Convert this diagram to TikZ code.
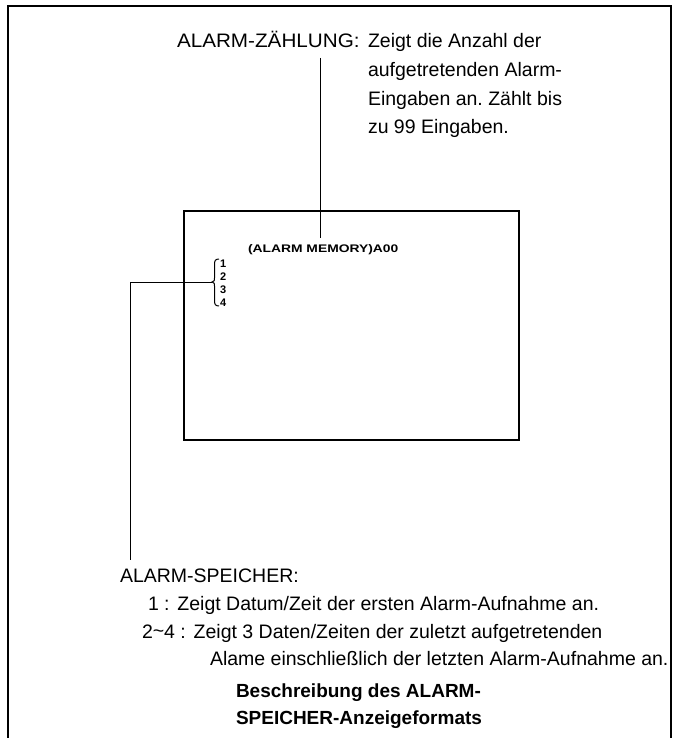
\documentclass[tikz,border=0pt]{standalone}
\usepackage{graphicx}
\usepackage{fontspec}
\setmainfont{Liberation Sans}
\frenchspacing
\begin{document}
\begin{tikzpicture}[x=1pt,y=-1pt,
  every node/.style={inner sep=0pt, outer sep=0pt},
  frameline/.style={line width=1.3pt},
  screenbox/.style={draw, line width=2pt},
  leader/.style={line width=1pt},
  body/.style={font=\fontsize{19.5}{28}\selectfont, anchor=base west},
  title/.style={font=\bfseries\fontsize{19}{27}\selectfont, anchor=base west},
  scr/.style={font=\bfseries\fontsize{11}{13}\selectfont, anchor=base west}]
\useasboundingbox (0,0) rectangle (679,738);
\fill[white] (0,0) rectangle (679,738);
\clip (0,0) rectangle (679,738);
% outer frame (open at the bottom)
\draw[frameline] (8,745) -- (8,6) -- (671,6) -- (671,745);
% top label
\node[body] (zlab) at (177,48) {\scalebox{1.06}[1]{ALARM-ZÄHLUNG:}};
\node[body] (z1) at (368,48) {Zeigt die Anzahl der};
\node[body] (z2) at (368,77) {aufgetretenden Alarm-};
\node[body] (z3) at (368,106) {Eingaben an. Zählt bis};
\node[body] (z4) at (368,134) {zu 99 Eingaben.};
% screen
\node[screenbox, minimum width=335pt, minimum height=229pt, anchor=north west] (screen) at (184,211) {};
\node[scr] (mem) at (248,252) {\scalebox{1.26}[1]{(ALARM MEMORY)A00}};
\node[scr] (n1) at (220,267) {1};
\node[scr] (n2) at (220,280) {2};
\node[scr] (n3) at (220,293) {3};
\node[scr] (n4) at (220,306) {4};
% brace
\coordinate (bt) at (219,259);
\coordinate (bm) at (212,282);
\coordinate (bb) at (219,306);
\draw[line width=1pt] (bt) .. controls (215,259) and (214.5,261) .. (214.5,265) -- (214.5,278) .. controls (214.5,281) .. (bm) .. controls (214.5,283) .. (214.5,286) -- (214.5,300) .. controls (214.5,304) and (215,306) .. (bb);
% connectors
\coordinate (ztop) at (320,58);
\coordinate (zend) at (320,238);
\draw[leader] (ztop) -- (zend);
\coordinate (scorner) at (130,282);
\coordinate (sbot) at (130,560);
\draw[leader] (bm) -- (scorner) -- (sbot);
% lower text
\node[body] (slab) at (120,582) {ALARM-SPEICHER:};
\node[body] (s1) at (148,610) {1 :\hspace{0.4em}Zeigt Datum/Zeit der ersten Alarm-Aufnahme an.};
\node[body] (s2) at (142,638) {2\raisebox{0.05em}{\textasciitilde}4 :\hspace{0.4em}Zeigt 3 Daten/Zeiten der zuletzt aufgetretenden};
\node[body] (s3) at (210,665) {Alame einschließlich der letzten Alarm-Aufnahme an.};
% caption
\node[title] (cap1) at (236,697) {Beschreibung des ALARM-};
\node[title] (cap2) at (236,724) {SPEICHER-Anzeigeformats};
\end{tikzpicture}
\end{document}
